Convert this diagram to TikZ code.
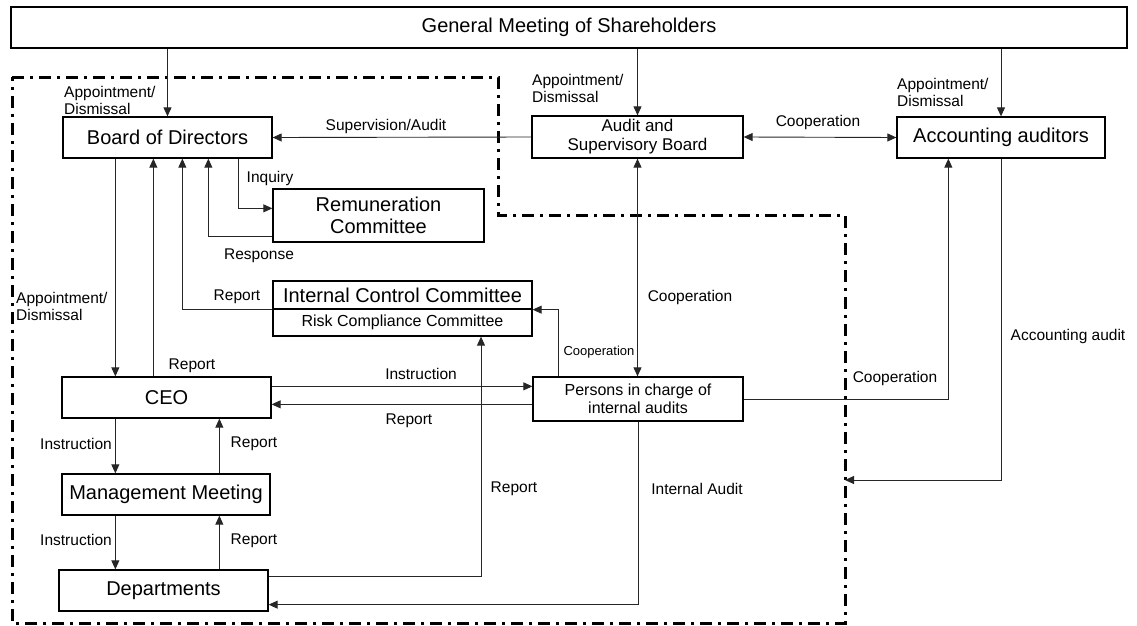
\documentclass[tikz,border=0pt]{standalone}
\usepackage{fontspec}
\setmainfont{Liberation Sans}
\usetikzlibrary{arrows.meta,calc}
\begin{document}
\begin{tikzpicture}[x=1pt,y=-1pt,
  box/.style={draw,line width=1.3pt,rectangle,inner sep=0pt,align=center,font=\fontsize{20}{22}\selectfont},
  lbl/.style={inner sep=0pt,align=left,font=\fontsize{15.5}{17}\selectfont},
  conn/.style={line width=0.9pt,draw=black!85},
  arr/.style={conn,-{Triangle[length=9pt,width=8pt]}},
  darr/.style={conn,{Triangle[length=9pt,width=8pt]}-{Triangle[length=9pt,width=8pt]}},
  bound/.style={line width=3pt,dash pattern=on 12pt off 6pt on 3pt off 6pt}
]
\useasboundingbox (0,0) rectangle (1137,626);
% nodes
\node[box,minimum width=1116pt,minimum height=41pt] (gm) at (569,27.5) {General Meeting of Shareholders};
\node[box,minimum width=209pt,minimum height=41pt] (bod) at (167.5,137.5) {Board of Directors};
\node[box,minimum width=211pt,minimum height=42pt,font=\fontsize{17}{19}\selectfont] (asb) at (637.5,137) {Audit and\\Supervisory Board};
\node[box,minimum width=208pt,minimum height=41pt] (aa) at (1001,137.5) {Accounting auditors};
\node[box,minimum width=211pt,minimum height=53pt] (rc) at (378.5,215.5) {Remuneration\\Committee};
\node[box,minimum width=259pt,minimum height=28pt] (icc) at (402.5,295) {Internal Control Committee};
\node[box,minimum width=259pt,minimum height=27pt,font=\fontsize{16}{18}\selectfont] (rcc) at (402.5,322.5) {Risk Compliance Committee};
\node[box,minimum width=210pt,minimum height=44pt,font=\fontsize{16}{18}\selectfont] (pic) at (638,399) {Persons in charge of\\internal audits};
\node[box,minimum width=209pt,minimum height=41pt] (ceo) at (166.5,397.5) {CEO};
\node[box,minimum width=208pt,minimum height=41pt] (mm) at (166,494.5) {Management Meeting};
\node[box,minimum width=209pt,minimum height=41pt] (dep) at (163.5,590.5) {Departments};
% boundary
\draw[bound] (12,77) -- (498,77) -- (498,215) -- (845,215) -- (845,623) -- (12,623) -- cycle;
\coordinate (bnd) at (845,480);
% helper coordinates
\coordinate (b1) at ($(bod.south west)+(53,0)$);
\coordinate (b2) at ($(bod.south west)+(91,0)$);
\coordinate (b3) at ($(bod.south west)+(120,0)$);
\coordinate (b4) at ($(bod.south west)+(146,0)$);
\coordinate (b5) at ($(bod.south west)+(176,0)$);
\coordinate (rcin) at ($(rc.north west)+(0,20)$);
\coordinate (rcout) at ($(rc.south west)+(0,-6)$);
\coordinate (p1) at ($(pic.north west)+(26,0)$);
\coordinate (ceoI) at ($(ceo.north east)+(0,10)$);
\coordinate (picR) at ($(pic.north west)+(0,28)$);
\coordinate (depR) at ($(dep.north east)+(0,7)$);
\coordinate (depA) at ($(dep.south east)+(0,-7)$);
\coordinate (ic) at ($(rcc.south)+(78.5,0)$);
\coordinate (a1) at ($(aa.south west)+(52,0)$);
\coordinate (c1) at ($(ceo.south west)+(54,0)$);
\coordinate (c2) at ($(ceo.south west)+(158,0)$);
\coordinate (m1) at ($(mm.south west)+(54,0)$);
\coordinate (m2) at ($(mm.south west)+(158,0)$);
% connectors
\draw[arr] (gm.south -| bod.north) -- (bod.north);
\draw[arr] (gm.south -| asb.north) -- (asb.north);
\draw[arr] (gm.south -| aa.north) -- (aa.north);
\draw[arr] (asb.west) -- (bod.east);
\draw[darr] (asb.east) -- (aa.west);
\draw[darr] (asb.south) -- (asb.south |- pic.north);
\draw[arr] (b5) |- (rcin);
\draw[arr] (rcout) -| (b4);
\draw[arr] (icc.south west) -| (b3);
\draw[arr] (b1) -- (b1 |- ceo.north);
\draw[arr] (b2 |- ceo.north) -- (b2);
\draw[arr] (p1) |- (icc.south east);
\draw[arr] (ceoI) -- (ceoI -| pic.west);
\draw[arr] (picR) -- (picR -| ceo.east);
\draw[arr] (depR) -| (ic);
\draw[arr] (pic.south) |- (depA);
\draw[arr] (pic.east) -| (a1);
\draw[arr] (aa.south) |- (bnd);
\draw[arr] (c1) -- (c1 |- mm.north);
\draw[arr] (c2 |- mm.north) -- (c2);
\draw[arr] (m1) -- (m1 |- dep.north);
\draw[arr] (m2 |- dep.north) -- (m2);
% labels
\node[lbl,anchor=west] (l1) at (64,100) {Appointment/\\Dismissal};
\node[lbl,anchor=west] (l2) at (532,88) {Appointment/\\Dismissal};
\node[lbl,anchor=west] (l3) at (897,92) {Appointment/\\Dismissal};
\node[lbl] (l4) at (386,126) {Supervision/Audit};
\node[lbl] (l5) at (818,122) {Cooperation};
\node[lbl] (l6) at (270,178) {Inquiry};
\node[lbl] (l7) at (259,256) {Response};
\node[lbl] (l8) at (237,297) {Report};
\node[lbl,anchor=west] (l9) at (16,306) {Appointment/\\Dismissal};
\node[lbl] (l10) at (192,366) {Report};
\node[lbl] (l11) at (76,444) {Instruction};
\node[lbl] (l12) at (254,444) {Report};
\node[lbl] (l13) at (76,540) {Instruction};
\node[lbl] (l14) at (254,541) {Report};
\node[lbl] (l15) at (421,374) {Instruction};
\node[lbl] (l16) at (409,421) {Report};
\node[lbl,font=\fontsize{13}{15}\selectfont] (l17) at (599,352) {Cooperation};
\node[lbl] (l18) at (690,297) {Cooperation};
\node[lbl] (l19) at (514,489) {Report};
\node[lbl] (l20) at (697,489) {Internal Audit};
\node[lbl] (l21) at (895,378) {Cooperation};
\node[lbl] (l22) at (1068,336) {Accounting audit};
\end{tikzpicture}
\end{document}
